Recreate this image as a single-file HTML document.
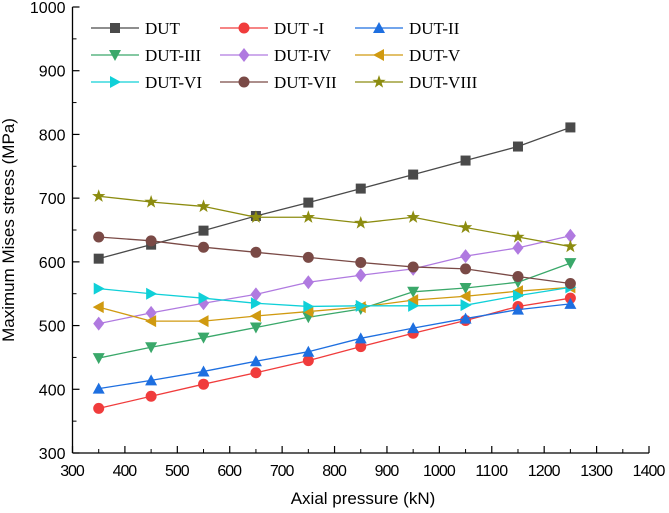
<!DOCTYPE html>
<html><head><meta charset="utf-8"><style>
html,body{margin:0;padding:0;background:#fff;}
svg{display:block;}
</style></head><body>
<svg id="chart" width="669" height="513" xmlns="http://www.w3.org/2000/svg">
<g id="axes"></g><g id="series"></g><g id="legend"></g>
</svg>
<script>
const xCats = [350,450,550,650,750,850,950,1050,1150,1250];
const xTicks = [300,400,500,600,700,800,900,1000,1100,1200,1300,1400];
const yTicks = [300,400,500,600,700,800,900,1000];
const seriesNames = ["DUT","DUT -I","DUT-II","DUT-III","DUT-IV","DUT-V","DUT-VI","DUT-VII","DUT-VIII"];
const sDUT = [605,627,649,672,693,715,737,759,781,811];
const sDUT1 = [370,389,408,426,445,467,488,508,530,543];
const sDUT2 = [401,414,428,444,459,480,496,511,525,534];
const sDUT3 = [449,466,481,497,513,526,553,559,568,598];
const sDUT4 = [503,520,535,549,568,579,589,609,622,641];
const sDUT5 = [529,507,507,515,522,529,540,546,554,560];
const sDUT6 = [558,550,543,535,530,531,531,532,547,560];
const sDUT7 = [639,633,623,615,607,599,592,589,577,566];
const sDUT8 = [703,694,687,670,670,661,670,654,639,624];
const allSeries = [sDUT,sDUT1,sDUT2,sDUT3,sDUT4,sDUT5,sDUT6,sDUT7,sDUT8];
const colors = ["#4a4a4a","#f03c3c","#1e6fe0","#3aa86a","#b07ae0","#d09a10","#10d0d8","#7a4a46","#8c8c10"];
const markers = ["square","circle","up","down","diamond","left","right","circle","star"];

const NS="http://www.w3.org/2000/svg";
const X0=72.5,X1=649,Y0=453,Y1=7;
const xs=v=>X0+(v-300)/(1400-300)*(X1-X0);
const ys=v=>Y0-(v-300)/(1000-300)*(Y0-Y1);
function mk(tag,attrs,parent){const e=document.createElementNS(NS,tag);for(const k in attrs)e.setAttribute(k,attrs[k]);parent.appendChild(e);return e;}
const axes=document.getElementById('axes'),ser=document.getElementById('series'),leg=document.getElementById('legend');

let a=mk('line',{x1:X0,y1:Y0,x2:X1,y2:Y0,stroke:'#000','stroke-width':1.3},axes);


a=mk('line',{x1:X0,y1:Y0,x2:X0,y2:Y1,stroke:'#000','stroke-width':1.3},axes);


xTicks.forEach((t,i)=>{
  const x=xs(t);
  mk('line',{x1:x,y1:Y0,x2:x,y2:Y0-7,stroke:'#000','stroke-width':1.2},axes);
  if(i<xTicks.length-1) mk('line',{x1:xs(t+50),y1:Y0,x2:xs(t+50),y2:Y0-4,stroke:'#000','stroke-width':1},axes);
  const tx=mk('text',{x:x,y:Y0+23,'text-anchor':'middle','font-family':'Liberation Sans, sans-serif','font-size':16,'textLength':String(t).length*8.2},axes);
  tx.textContent=t;
  
  
});
yTicks.forEach((t,i)=>{
  const y=ys(t);
  mk('line',{x1:X0,y1:y,x2:X0+7,y2:y,stroke:'#000','stroke-width':1.2},axes);
  if(i<yTicks.length-1) mk('line',{x1:X0,y1:ys(t+50),x2:X0+4,y2:ys(t+50),stroke:'#000','stroke-width':1},axes);
  const tx=mk('text',{x:X0-7,y:y+6,'text-anchor':'end','font-family':'Liberation Sans, sans-serif','font-size':16},axes);
  tx.textContent=t;
  
  
});
let t=mk('text',{x:363,y:504,'text-anchor':'middle','font-family':'Liberation Sans, sans-serif','font-size':17},axes);
t.textContent='Axial pressure (kN)';


t=mk('text',{x:0,y:0,'text-anchor':'middle','font-family':'Liberation Sans, sans-serif','font-size':17,transform:'translate(14,230) rotate(-90)'},axes);
t.textContent='Maximum Mises stress (MPa)';



function marker(type,x,y,c,parent){
  const r=5.5;
  if(type==='square') return mk('rect',{x:x-5,y:y-5,width:10,height:10,fill:c},parent);
  if(type==='circle') return mk('circle',{cx:x,cy:y,r:r,fill:c},parent);
  let p;
  if(type==='up') p=[[x,y-6],[x+6,y+5],[x-6,y+5]];
  if(type==='down') p=[[x,y+6],[x+6,y-5],[x-6,y-5]];
  if(type==='left') p=[[x-6,y],[x+5,y-6],[x+5,y+6]];
  if(type==='right') p=[[x+6,y],[x-5,y-6],[x-5,y+6]];
  if(type==='diamond') p=[[x,y-7],[x+5.5,y],[x,y+7],[x-5.5,y]];
  if(type==='star'){p=[];for(let k=0;k<10;k++){const rr=k%2?2.8:7;const an=-Math.PI/2+k*Math.PI/5;p.push([x+rr*Math.cos(an),y+rr*Math.sin(an)]);}}
  return mk('polygon',{points:p.map(q=>q.join(',')).join(' '),fill:c},parent);
}

allSeries.forEach((vals,si)=>{
  const g=mk('g',{},ser);
  
  
  const pts=vals.map((v,i)=>xs(xCats[i])+','+ys(v)).join(' ');
  mk('polyline',{points:pts,fill:'none',stroke:colors[si],'stroke-width':1.3},g);
  vals.forEach((v,i)=>{
    const m=marker(markers[si],xs(xCats[i]),ys(v),colors[si],g);
    
    
  });
});

const colX=[91,220,355], rowY=[28,55,82];
seriesNames.forEach((n,i)=>{
  const cx=colX[i%3], cy=rowY[Math.floor(i/3)];
  const g=mk('g',{},leg);
  
  
  mk('line',{x1:cx,y1:cy,x2:cx+48,y2:cy,stroke:colors[i],'stroke-width':1.3},g);
  marker(markers[i],cx+24,cy,colors[i],g);
  const tx=mk('text',{x:cx+54,y:cy+6,'font-family':'Liberation Serif, serif','font-size':17},g);
  tx.textContent=n;
});
</script>
</body></html>
